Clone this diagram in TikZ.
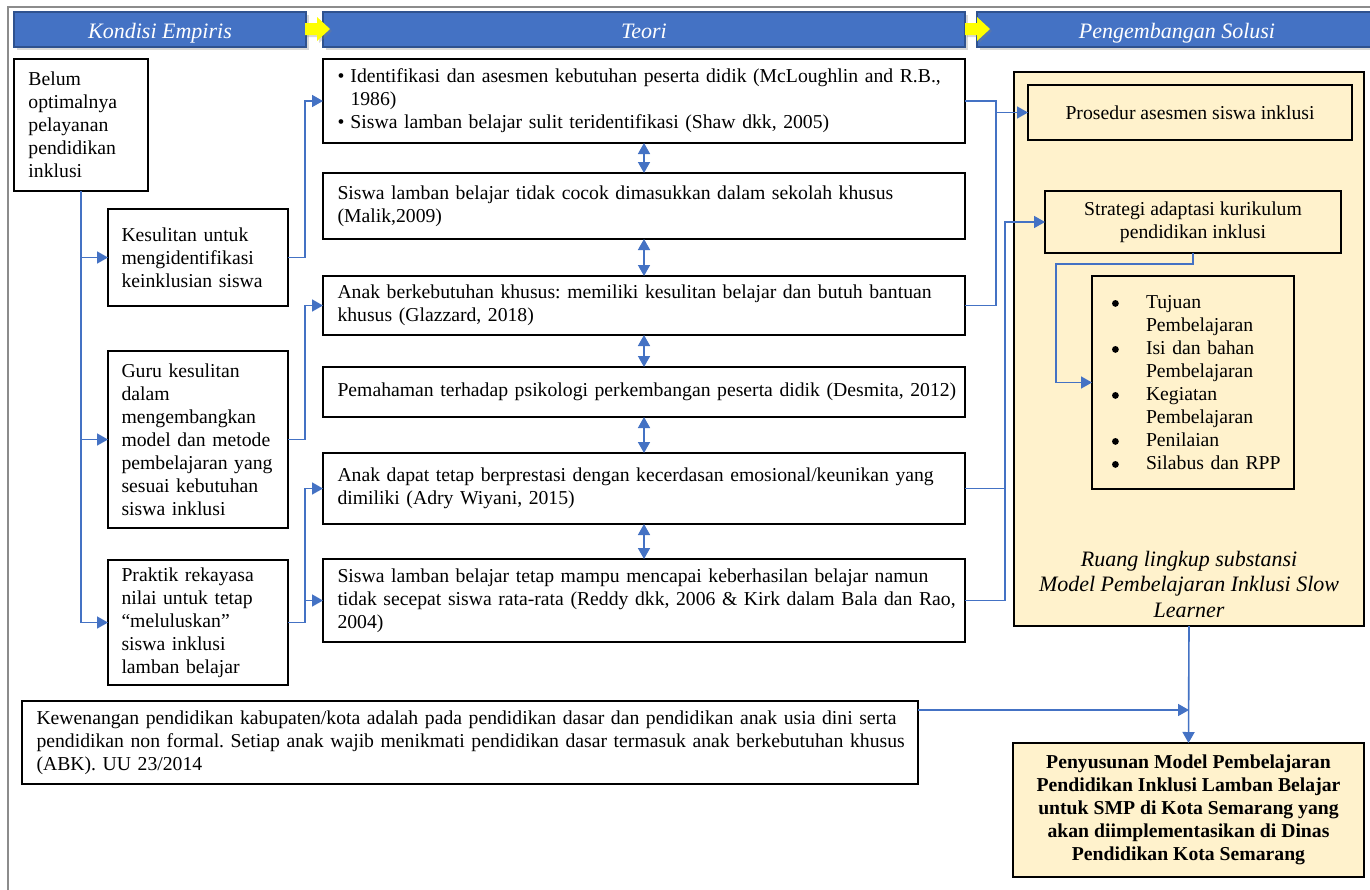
\documentclass[tikz,border=0pt]{standalone}
\usepackage{fontspec}
\setmainfont{Liberation Serif}
\usetikzlibrary{arrows.meta,shadows}
\definecolor{hdrblue}{HTML}{4472C4}
\definecolor{hdredge}{HTML}{2F528F}
\definecolor{linkblue}{HTML}{4472C4}
\definecolor{paleyellow}{HTML}{FFF2CC}
\definecolor{framegray}{HTML}{8C8C8C}
\definecolor{arrowyellow}{HTML}{FFFF00}
\frenchspacing
% round list bullet drawn as a small disc
\newcommand{\bigdot}{\tikz[baseline=-5pt]\fill[black] (0,0) circle (3.4pt);}

\begin{document}
\begin{tikzpicture}[x=1pt,y=-1pt,
  every node/.style={outer sep=0pt},
  txt/.style={font=\fontsize{19.7pt}{23pt}\selectfont},
  box/.style={txt, draw=black, line width=1.6pt, anchor=north west, align=left, inner ysep=0pt},
  lpad/.style={inner xsep=0pt, execute at begin node={\leftskip=#1\relax}},
  cbox/.style={box, fill=paleyellow, align=center},
  hdr/.style={fill=hdrblue, draw=hdredge, line width=1.2pt, anchor=north west,
    minimum height=35pt, text=white, text height=18pt, text depth=0pt, inner ysep=0pt,
    font=\fontsize{22pt}{26pt}\selectfont\itshape,
    drop shadow={shadow xshift=3pt, shadow yshift=-3pt, opacity=0.3}},
  conn/.style={draw=linkblue, line width=1.6pt},
  arr/.style={conn, -{Triangle[length=11pt,width=12pt]}},
  dbl/.style={conn, {Triangle[length=11pt,width=12pt]}-{Triangle[length=11pt,width=12pt]}},
]
\useasboundingbox (0,0) rectangle (1370,889);
\fill[white] (0,0) rectangle (1370,889);
\clip (0,0) rectangle (1370,889);

% page frame
\draw[framegray, line width=1.3pt] (8,895) -- (8,7) -- (1375,7);

% column headers
\node[hdr, minimum width=292pt] (H1) at (14,12) {Kondisi Empiris};
\node[hdr, minimum width=642pt] (H2) at (323,12) {Teori};
\node[hdr, minimum width=400pt] (H3) at (977,12) {Pengembangan Solusi};

% yellow block arrows between headers
\path[fill=arrowyellow, drop shadow={shadow xshift=2pt, shadow yshift=-2pt, opacity=0.3}]
  (305,23) -- (317,23) -- (317,17) -- (330,29) -- (317,41) -- (317,35) -- (305,35) -- cycle;
\path[fill=arrowyellow, drop shadow={shadow xshift=2pt, shadow yshift=-2pt, opacity=0.3}]
  (965,23) -- (977,23) -- (977,17) -- (990,29) -- (977,41) -- (977,35) -- (965,35) -- cycle;

% empirical conditions
\node[box, lpad=13pt, minimum width=134pt, minimum height=132pt, text width=131pt] (A) at (14,59)
  {Belum\\optimalnya\\pelayanan\\pendidikan\\inklusi};
\tikzset{cond/.style={box, lpad=12pt, minimum width=180pt, text width=177pt}}
\node[cond, minimum height=97pt] (B) at (108,209)
  {Kesulitan untuk\\mengidentifikasi\\keinklusian siswa};
\node[cond, minimum height=177pt] (C) at (108,351)
  {Guru kesulitan\\dalam\\mengembangkan\\model dan metode\\pembelajaran yang\\sesuai kebutuhan\\siswa inklusi};
\node[cond, minimum height=125pt] (D) at (108,560)
  {Praktik rekayasa\\nilai untuk tetap\\“meluluskan”\\siswa inklusi\\lamban belajar};

% theory
\tikzset{theory/.style={box, lpad=13pt, minimum width=642pt, text width=639pt}}
\node[theory, minimum height=84pt] (T1) at (323,59)
  {\makebox[13pt][l]{\textbullet}Identifikasi dan asesmen kebutuhan peserta didik (McLoughlin and R.B.,\\
   \hspace*{13pt}1986)\\
   \makebox[13pt][l]{\textbullet}Siswa lamban belajar sulit teridentifikasi (Shaw dkk, 2005)};
\node[theory, minimum height=66pt] (T2) at (323,173)
  {Siswa lamban belajar tidak cocok dimasukkan dalam sekolah khusus\\(Malik,2009)};
\node[theory, minimum height=59pt] (T3) at (323,276)
  {Anak berkebutuhan khusus: memiliki kesulitan belajar dan butuh bantuan\\khusus (Glazzard, 2018)};
\node[theory, minimum height=50pt] (T4) at (323,367)
  {Pemahaman terhadap psikologi perkembangan peserta didik (Desmita, 2012)};
\node[theory, minimum height=71pt] (T5) at (323,453)
  {Anak dapat tetap berprestasi dengan kecerdasan emosional/keunikan yang\\dimiliki (Adry Wiyani, 2015)};
\node[theory, minimum height=83pt] (T6) at (323,559)
  {Siswa lamban belajar tetap mampu mencapai keberhasilan belajar namun\\tidak secepat siswa rata-rata (Reddy dkk, 2006 \& Kirk dalam Bala dan Rao,\\2004)};

% regulation
\node[box, lpad=13pt, minimum width=896pt, minimum height=83pt, text width=893pt] (K) at (22,701)
  {Kewenangan pendidikan kabupaten/kota adalah pada pendidikan dasar dan pendidikan anak usia dini serta\\
   pendidikan non formal. Setiap anak wajib menikmati pendidikan dasar termasuk anak berkebutuhan khusus\\
   (ABK). UU 23/2014};

% solution development
\node[box, fill=paleyellow, minimum width=350pt, minimum height=554pt] (Pn) at (1014,72) {};
\node[cbox, minimum width=324pt, minimum height=55pt] (P) at (1028,85) {Prosedur asesmen siswa inklusi};
\node[cbox, minimum width=296pt, minimum height=62pt] (S) at (1045,191) {Strategi adaptasi kurikulum\\pendidikan inklusi};
\node[box, fill=paleyellow, minimum width=202pt, minimum height=213pt, text width=202pt, inner xsep=0pt] (L) at (1092,276)
  {\hspace*{20pt}\makebox[34pt][l]{\bigdot}Tujuan\\
   \hspace*{54pt}Pembelajaran\\
   \hspace*{20pt}\makebox[34pt][l]{\bigdot}Isi dan bahan\\
   \hspace*{54pt}Pembelajaran\\
   \hspace*{20pt}\makebox[34pt][l]{\bigdot}Kegiatan\\
   \hspace*{54pt}Pembelajaran\\
   \hspace*{20pt}\makebox[34pt][l]{\bigdot}Penilaian\\
   \hspace*{20pt}\makebox[34pt][l]{\bigdot}Silabus dan RPP};
\node[font=\fontsize{22pt}{25.5pt}\selectfont\itshape, align=center] (Rl) at (1189,584)
  {Ruang lingkup substansi\\Model Pembelajaran Inklusi Slow\\Learner};
\node[cbox, minimum width=351pt, minimum height=134pt, font=\fontsize{19.7pt}{23pt}\selectfont\bfseries] (F) at (1013,743)
  {Penyusunan Model Pembelajaran\\Pendidikan Inklusi Lamban Belajar\\untuk SMP di Kota Semarang yang\\akan diimplementasikan di Dinas\\Pendidikan Kota Semarang};

% connectors: conditions
\draw[arr] (A.south) |- (D.west);
\draw[arr] (A.south |- B.west) -- (B.west);
\draw[arr] (A.south |- C.west) -- (C.west);
\draw[arr] (B.east) -- ++(17,0) |- (T1.west);
\draw[arr] (C.east) -- ++(17,0) |- (T3.west);
\draw[arr] (D.east) -- ++(17,0) |- (T5.west);
\draw[arr] (D.east) -- ++(17,0) |- (T6.west);

% connectors: theory chain
\draw[dbl] (T1.south) -- (T2.north);
\draw[dbl] (T2.south) -- (T3.north);
\draw[dbl] (T3.south) -- (T4.north);
\draw[dbl] (T4.south) -- (T5.north);
\draw[dbl] (T5.south) -- (T6.north);

% connectors: solutions
\coordinate (jA) at (996,0);
\draw[conn] (T1.east) -| (jA |- T3.east) -- (T3.east);
\draw[arr] (jA |- P.west) -- (P.west);
\coordinate (jB) at (1005,0);
\draw[conn] (T5.east) -- (T5.east -| jB);
\draw[arr] (T6.east) -| (jB |- S.west) -- (S.west);
\coordinate (jC) at (1056,264);
\draw[arr] (S.south) |- (jC) |- (L.west);
\draw[arr] (Pn.south) -- (F.north);
\coordinate (k1) at ([yshift=-9pt]K.north east);
\draw[arr] (k1) -- (k1 -| Pn.south);
\end{tikzpicture}
\end{document}
